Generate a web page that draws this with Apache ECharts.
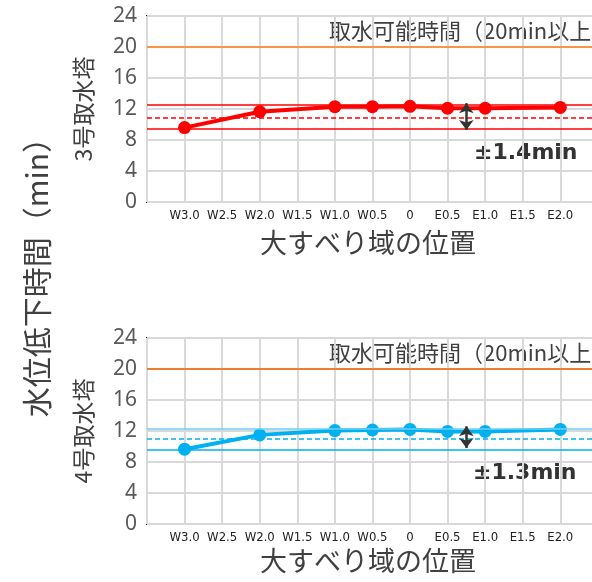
<!DOCTYPE html>
<html>
<head>
<meta charset="utf-8">
<script src="https://cdn.jsdelivr.net/npm/echarts@6/dist/echarts.min.js"></script>
<style>
html,body{margin:0;padding:0;background:#fff;}
#chart{width:592px;height:582px;}
</style>
</head>
<body>
<div id="chart"></div>
<script>
// ---- data ----
const xTickLabels = ['W3.0','W2.5','W2.0','W1.5','W1.0','W0.5','0','E0.5','E1.0','E1.5','E2.0'];
const xTickValues = [-3,-2.5,-2,-1.5,-1,-0.5,0,0.5,1,1.5,2];
const pointLocations = ['W3.0','W2.0','W1.0','W0.5','0','E0.5','E1.0','E2.0'];
const tower3Values = [9.6, 11.65, 12.3, 12.3, 12.35, 12.1, 12.1, 12.2];
const tower4Values = [9.65, 11.5, 12.05, 12.13, 12.2, 11.95, 11.95, 12.2];
const tower3Band = [12.5, 10.9, 9.4];   // upper, mean, lower
const tower4Band = [12.3, 10.95, 9.6];
const thresholdValue = 20;
const yTicks = [0, 4, 8, 12, 16, 20, 24];
const chartNames = ['3号取水塔', '4号取水塔'];
const spreadLabels = ['±1.4min', '±1.3min'];
const thresholdLabel = '取水可能時間（20min以上）';
const xTitle = '大すべり域の位置';
const yTitle = '水位低下時間（min）';

const cjk = '"Noto Sans CJK JP", "Noto Sans", sans-serif';
function posOf(label){ return xTickValues[xTickLabels.indexOf(label)]; }
function pairs(vals){ return pointLocations.map((l,i)=>[posOf(l), vals[i]]); }
function labelFor(v){
  for (let i=0;i<xTickValues.length;i++) if (Math.abs(xTickValues[i]-v)<1e-6) return xTickLabels[i];
  return '';
}

const grids = [
  {left:147, top:16, width:526, height:186, show:true, borderColor:'#000', borderWidth:2, backgroundColor:'transparent', outerBoundsMode:'none', containLabel:false},
  {left:147, top:338, width:526, height:186, show:true, borderColor:'#000', borderWidth:2, backgroundColor:'transparent', outerBoundsMode:'none', containLabel:false}
];

function xAxis(i){
  return {
    type:'value', gridIndex:i, min:-3.5, max:3.5, interval:0.5,
    axisLine:{show:false}, axisTick:{show:false},
    splitLine:{show:true, lineStyle:{color:'#D9D9D9', width:2}},
    axisLabel:{formatter:labelFor, color:'#222', fontSize:13, margin:7,
      fontFamily:'"DejaVu Sans Condensed", "Liberation Sans Narrow", sans-serif', showMinLabel:true, showMaxLabel:true}
  };
}
function yAxis(i){
  return {
    type:'value', gridIndex:i, min:yTicks[0], max:yTicks[yTicks.length-1], interval:4,
    axisLine:{show:false}, axisTick:{show:false},
    splitLine:{show:true, lineStyle:{color:'#D9D9D9', width:2}},
    axisLabel:{color:'#595959', fontSize:21, margin:10, fontFamily:'"Noto Sans", sans-serif'},
    name:chartNames[i], nameLocation:'middle', nameGap:52, nameRotate:90,
    nameTextStyle:{fontSize:23, color:'#404040', fontFamily:cjk}
  };
}

function bandLines(band, upperColor, lowerColor, dashColor, orange){
  return {
    silent:true, symbol:'none', label:{show:false}, animation:false,
    data:[
      {yAxis:thresholdValue, lineStyle:{color:orange, width:2, type:'solid'}},
      {yAxis:band[0], lineStyle:{color:upperColor, width:1.6, type:'solid'}},
      {yAxis:band[1], lineStyle:{color:dashColor, width:1.6, type:[5,3]}},
      {yAxis:band[2], lineStyle:{color:lowerColor, width:1.6, type:'solid'}}
    ]
  };
}
function arrow(y1, y2){
  return {
    silent:true, symbol:['arrow','arrow'], symbolSize:[11,10], label:{show:false}, animation:false,
    lineStyle:{color:'#333', width:2.5, type:'solid'},
    data:[[{coord:[0.75, y1]}, {coord:[0.75, y2]}]]
  };
}

const series = [
  {type:'line', xAxisIndex:0, yAxisIndex:0, data:[], markLine:bandLines(tower3Band,'#FF0000','#FF0000','#FF0000','#F79646'), z:2},
  {type:'line', xAxisIndex:0, yAxisIndex:0, data:[], markLine:arrow(12.75, 9.3), z:4},
  {type:'line', xAxisIndex:0, yAxisIndex:0, data:pairs(tower3Values), color:'#FF0000',
   lineStyle:{width:4}, symbol:'circle', symbolSize:13, itemStyle:{color:'#FF0000'}, z:3, animation:false},
  {type:'line', xAxisIndex:1, yAxisIndex:1, data:[], markLine:bandLines(tower4Band,'#6DCFF6','#00B0F0','#00B0F0','#ED7D31'), z:2},
  {type:'line', xAxisIndex:1, yAxisIndex:1, data:[], markLine:arrow(12.6, 9.8), z:4},
  {type:'line', xAxisIndex:1, yAxisIndex:1, data:pairs(tower4Values), color:'#00B0F0',
   lineStyle:{width:4}, symbol:'circle', symbolSize:13, itemStyle:{color:'#00B0F0'}, z:3, animation:false}
];

const graphic = [
  {type:'text', left:329, top:20, style:{text:thresholdLabel, fill:'#404040', font:'22px '+cjk}},
  {type:'text', left:329, top:342, style:{text:thresholdLabel, fill:'#404040', font:'22px '+cjk}},
  {type:'text', left:474, top:142, style:{text:spreadLabels[0], fill:'#333', font:'bold 22px "DejaVu Sans", sans-serif'}},
  {type:'text', left:473, top:462, style:{text:spreadLabels[1], fill:'#333', font:'bold 22px "DejaVu Sans", sans-serif'}},
  {type:'text', x:368, y:243, style:{text:xTitle, fill:'#404040', font:'27px '+cjk, align:'center', verticalAlign:'middle'}},
  {type:'text', x:368, y:561, style:{text:xTitle, fill:'#404040', font:'27px '+cjk, align:'center', verticalAlign:'middle'}},
  {type:'text', x:37, y:270, rotation:Math.PI/2,
   style:{text:yTitle, fill:'#404040', font:'30px '+cjk, align:'center', verticalAlign:'middle'}}
];

const chart = echarts.init(document.getElementById('chart'), null, {renderer:'canvas'});
chart.setOption({
  animation:false,
  grid:grids,
  xAxis:[xAxis(0), xAxis(1)],
  yAxis:[yAxis(0), yAxis(1)],
  series:series,
  graphic:graphic
});
</script>
</body>
</html>
